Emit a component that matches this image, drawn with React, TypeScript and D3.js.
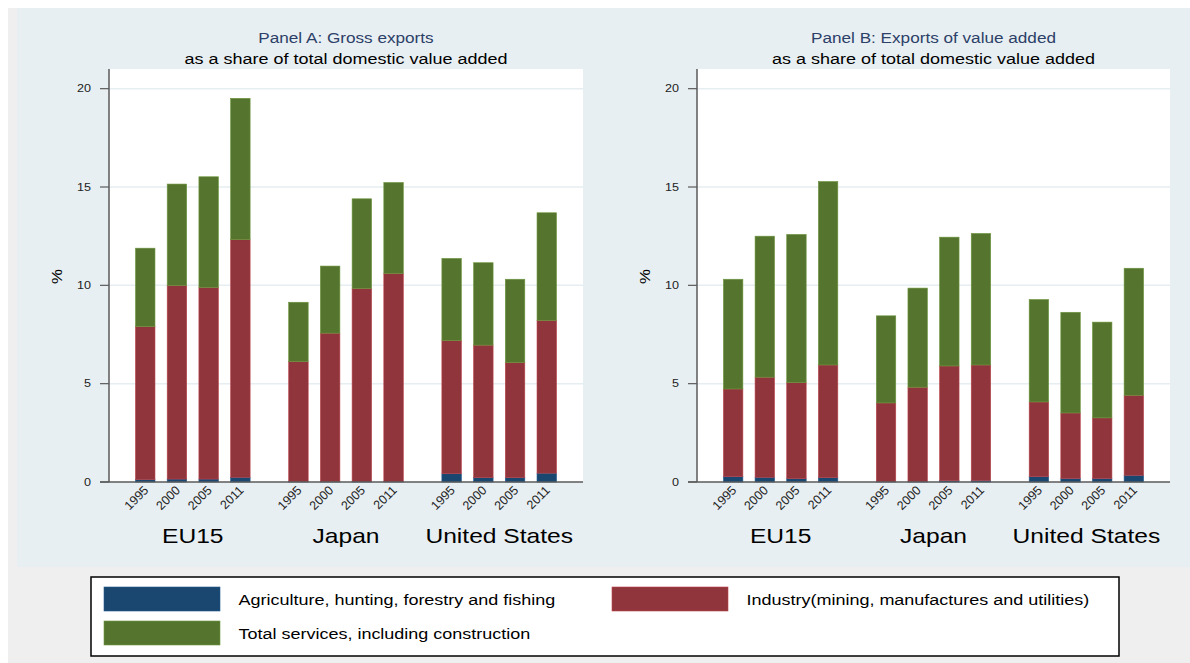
import React from "react";
import * as d3 from "d3";

const countries = ["EU15", "Japan", "United States"];
const years = ["1995", "2000", "2005", "2011"];
const seriesNames = [
  "Agriculture, hunting, forestry and fishing",
  "Industry(mining, manufactures and utilities)",
  "Total services, including construction",
];
const seriesColors = ["#1a476f", "#90353b", "#55752f"];
const yTicks = [0, 5, 10, 15, 20];

// Panel A: Gross exports (order: EU15 95,00,05,11, Japan ..., US ...)
const grossAgri = [0.12, 0.15, 0.15, 0.24, 0.02, 0.02, 0.03, 0.03, 0.42, 0.22, 0.22, 0.45];
const grossIndustry = [7.78, 9.84, 9.74, 12.08, 6.1, 7.55, 9.81, 10.57, 6.77, 6.74, 5.85, 7.76];
const grossServices = [3.99, 5.16, 5.63, 7.19, 3.02, 3.41, 4.56, 4.63, 4.18, 4.19, 4.24, 5.48];

// Panel B: Exports of value added
const vaAgri = [0.27, 0.24, 0.17, 0.22, 0.03, 0.03, 0.07, 0.08, 0.27, 0.18, 0.18, 0.34];
const vaIndustry = [4.46, 5.09, 4.88, 5.73, 3.99, 4.79, 5.83, 5.87, 3.8, 3.33, 3.08, 4.07];
const vaServices = [5.58, 7.17, 7.54, 9.33, 4.43, 5.04, 6.55, 6.69, 5.21, 5.12, 4.87, 6.46];

const FONT = "'Liberation Sans', Arial, Helvetica, sans-serif";
const SX = 1.2;

type Row = { country: string; year: string; agri: number; industry: number; services: number };

function buildRows(a: number[], i: number[], s: number[]): Row[] {
  const rows: Row[] = [];
  countries.forEach((c, ci) =>
    years.forEach((y, yi) => {
      const k = ci * years.length + yi;
      rows.push({ country: c, year: y, agri: a[k], industry: i[k], services: s[k] });
    })
  );
  return rows;
}

function SText(props: {
  x: number; y: number; size: number; anchor?: string; fill?: string; children: React.ReactNode;
}) {
  const { x, y, size, anchor = "start", fill = "#000", children } = props;
  return (
    <text
      transform={`translate(${x},${y}) scale(${SX},1)`}
      fontSize={size}
      fontFamily={FONT}
      textAnchor={anchor}
      fill={fill}
    >
      {children}
    </text>
  );
}

function Panel(props: { left: number; right: number; title: string; rows: Row[] }) {
  const { left, right, title, rows } = props;
  const top = 69;
  const bottom = 482;
  const y = d3.scaleLinear().domain([0, 21]).range([bottom, top]);
  const outer = d3.scaleBand<string>().domain(countries).range([left, right]).paddingInner(0.172).paddingOuter(0.133);
  const inner = d3.scaleBand<string>().domain(years).range([0, outer.bandwidth()]).paddingInner(0.385).paddingOuter(0.1925);
  const keys = ["agri", "industry", "services"];
  const stack = d3.stack<Row>().keys(keys)(rows);
  const cx = (left + right) / 2;
  const axisColor = "#5a5a5a";
  return (
    <g>
      <rect x={left} y={top} width={right - left} height={bottom - top} fill="#ffffff" />
      {yTicks.filter((t) => t > 0).map((t) => (
        <line key={"g" + t} x1={left} x2={right} y1={y(t)} y2={y(t)} stroke="#e6eef1" strokeWidth={1.5} />
      ))}
      {stack.map((layer, li) => (
        <g key={layer.key}>
          {layer.map((d, di) => {
            const r = d.data;
            const x0 = (outer(r.country) as number) + (inner(r.year) as number);
            const c = seriesColors[li];
            return (
              <rect
                key={di}
                x={x0}
                y={y(d[1])}
                width={inner.bandwidth()}
                height={Math.max(0, y(d[0]) - y(d[1]))}
                fill={c}
                stroke={d3.color(c)!.brighter(0.7).toString()}
                strokeWidth={0.6}
              />
            );
          })}
        </g>
      ))}
      <line x1={left} x2={left} y1={top} y2={bottom} stroke={axisColor} strokeWidth={1.5} />
      <line x1={left - 9} x2={right} y1={bottom} y2={bottom} stroke={axisColor} strokeWidth={1.5} />
      {yTicks.map((t) => (
        <g key={"t" + t}>
          <line x1={left - 9} x2={left} y1={y(t)} y2={y(t)} stroke={axisColor} strokeWidth={1.2} />
          <SText x={left - 18} y={y(t) + 3.8} size={10.5} anchor="end" fill="#222">{t}</SText>
        </g>
      ))}
      <text
        transform={`translate(${left - 47},${(top + bottom) / 2 + 1}) rotate(-90) scale(${SX},1)`}
        fontSize={14}
        fontFamily={FONT}
        textAnchor="middle"
        fill="#000"
      >
        %
      </text>
      {rows.map((r, i) => {
        const xc = (outer(r.country) as number) + (inner(r.year) as number) + inner.bandwidth() / 2;
        return (
          <text
            key={"yl" + i}
            transform={`translate(${xc + 4},${bottom + 9}) rotate(-45)`}
            fontSize={12.5}
            fontFamily={FONT}
            textAnchor="end"
            fill="#222"
          >
            {r.year}
          </text>
        );
      })}
      {countries.map((c) => (
        <SText key={c} x={(outer(c) as number) + outer.bandwidth() / 2} y={543} size={20.5} anchor="middle">
          {c}
        </SText>
      ))}
      <SText x={cx} y={42.5} size={14.3} anchor="middle" fill="#2c4068">{title}</SText>
      <SText x={cx} y={63.5} size={15} anchor="middle">as a share of total domestic value added</SText>
    </g>
  );
}

export default function App() {
  const rowsA = buildRows(grossAgri, grossIndustry, grossServices);
  const rowsB = buildRows(vaAgri, vaIndustry, vaServices);
  const legendItems = [
    { x: 104, y: 587, text: seriesNames[0], color: seriesColors[0], tx: 238.5 },
    { x: 612, y: 587, text: seriesNames[1], color: seriesColors[1], tx: 746.5 },
    { x: 104, y: 621, text: seriesNames[2], color: seriesColors[2], tx: 238.5 },
  ];
  return (
    <svg
      width={1190}
      height={663}
      style={{ position: "absolute", left: 0, top: 0, display: "block" }}
    >
      <rect x={0} y={0} width={1190} height={663} fill="#ffffff" />
      <rect x={8} y={8} width={1182} height={655} fill="#efefef" />
      <rect x={17} y={8} width={1173} height={559} fill="#e8eff2" />
      <Panel left={109} right={583} title="Panel A: Gross exports" rows={rowsA} />
      <Panel left={697} right={1170} title="Panel B: Exports of value added" rows={rowsB} />
      <rect x={91} y={577} width={1028} height={79} fill="#ffffff" stroke="#000" strokeWidth={1.5} />
      {legendItems.map((it) => (
        <g key={it.text}>
          <rect x={it.x} y={it.y} width={116} height={24} fill={it.color} stroke={d3.color(it.color)!.brighter(0.7).toString()} strokeWidth={0.6} />
          <SText x={it.tx} y={it.y + 18} size={15} anchor="start">{it.text}</SText>
        </g>
      ))}
    </svg>
  );
}
